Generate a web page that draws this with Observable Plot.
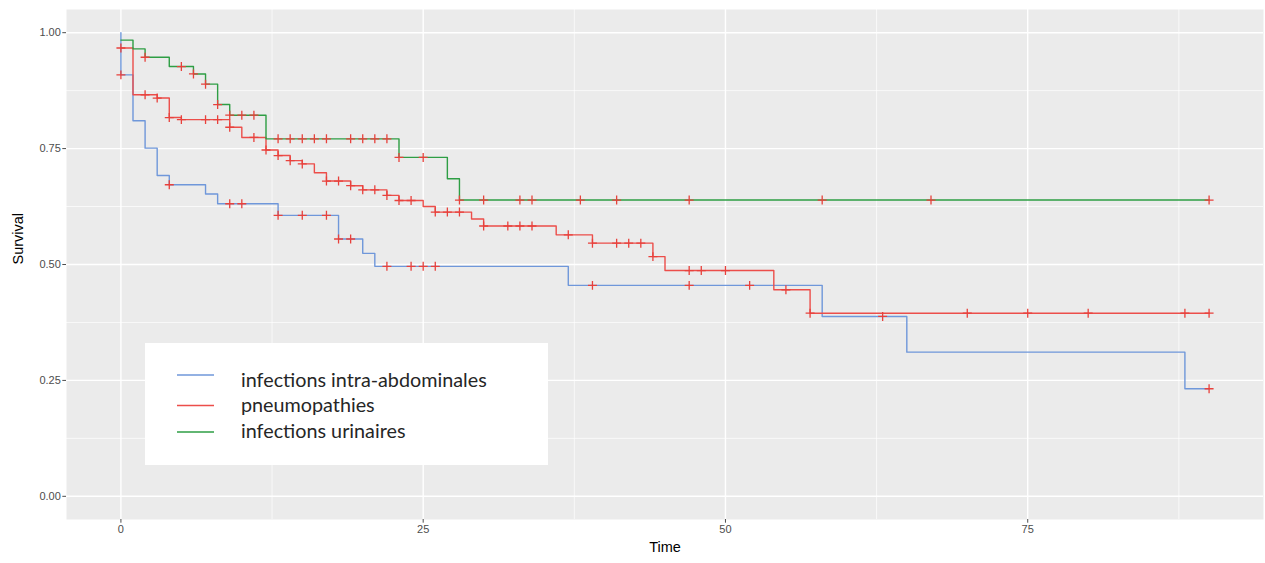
<!DOCTYPE html>
<html><head><meta charset="utf-8">
<script src="https://cdn.jsdelivr.net/npm/d3@7"></script>
<script src="https://cdn.jsdelivr.net/npm/@observablehq/plot@0.6"></script>
<style>
body{margin:0;background:#fff;}
#wrap{position:relative;width:1265px;height:563px;}
</style></head><body><div id="wrap"></div>
<script>
// ---- data ----
const seriesNames = ["infections intra-abdominales", "pneumopathies", "infections urinaires"];
const seriesColors = ["#6F97DA", "#EC4E4A", "#2E9E44"];
const censorColor = "#E8413C";

const xTicks = [0, 25, 50, 75];
const xMinor = [12.5, 37.5, 62.5, 87.5];
const yTicks = [0, 0.25, 0.5, 0.75, 1];
const yMinor = [0.125, 0.375, 0.625, 0.875];

const blueTimes  = [0, 0, 1, 2, 3, 4, 7, 8, 13, 18, 20, 21, 37, 58, 65, 88, 90];
const blueSurv   = [1, 0.909, 0.810, 0.751, 0.692, 0.672, 0.652, 0.631, 0.606, 0.555, 0.524, 0.496, 0.455, 0.388, 0.311, 0.232, 0.232];
const blueCensor = [0, 4, 9, 10, 13, 15, 17, 18, 19, 22, 24, 25, 26, 39, 47, 52, 63, 90];

const redTimes  = [0, 1, 3, 4, 5, 9, 10, 12, 13, 14, 15, 16, 17, 19, 20, 22, 23, 25, 26, 29, 30, 36, 39, 44, 45, 54, 57, 90];
const redSurv   = [0.967, 0.866, 0.859, 0.817, 0.8125, 0.796, 0.774, 0.747, 0.735, 0.724, 0.717, 0.698, 0.680, 0.670, 0.661, 0.649, 0.638, 0.625, 0.613, 0.598, 0.583, 0.564, 0.546, 0.517, 0.487, 0.4455, 0.395, 0.395];
const redCensor = [0, 2, 3, 4, 5, 7, 8, 9, 11, 12, 13, 14, 15, 17, 18, 19, 20, 21, 22, 23, 24, 26, 27, 28, 30, 32, 33, 34, 37, 39, 41, 42, 43, 44, 47, 48, 50, 55, 57, 70, 75, 80, 88, 90];

const greenTimes  = [0, 1, 2, 4, 6, 7, 8, 9, 12, 23, 27, 28, 90];
const greenSurv   = [0.984, 0.965, 0.947, 0.927, 0.911, 0.889, 0.845, 0.822, 0.771, 0.731, 0.685, 0.639, 0.639];
const greenCensor = [2, 5, 6, 7, 8, 9, 10, 11, 13, 14, 15, 16, 17, 19, 20, 21, 22, 23, 25, 28, 30, 33, 34, 38, 41, 47, 58, 67, 90];

// ---- build tables ----
const seriesDefs = [
  {name: seriesNames[0], times: blueTimes, surv: blueSurv, censor: blueCensor},
  {name: seriesNames[1], times: redTimes, surv: redSurv, censor: redCensor},
  {name: seriesNames[2], times: greenTimes, surv: greenSurv, censor: greenCensor}
];
function survAt(def, t) {
  let v = def.surv[0];
  def.times.forEach((ti, i) => { if (ti <= t) v = def.surv[i]; });
  return v;
}
const stepData = seriesDefs.flatMap(d => d.times.map((t, i) => ({series: d.name, time: t, surv: d.surv[i]})));
const censorData = seriesDefs.flatMap(d => d.censor.map(t => ({series: d.name, time: t, surv: survAt(d, t)})));

const chart = Plot.plot({
  width: 1265, height: 563,
  marginLeft: 66, marginRight: 2, marginTop: 9, marginBottom: 44,
  style: {fontFamily: "'Liberation Sans', Arial, sans-serif", background: "#fff"},
  x: {domain: [-4.5, 94.5]},
  y: {domain: [-0.05, 1.05]},
  color: {domain: seriesNames, range: seriesColors},
  marks: [
    Plot.frame({fill: "#EBEBEB", stroke: null}),
    Plot.gridX(xMinor, {stroke: "#fff", strokeOpacity: 1, strokeWidth: 0.7}),
    Plot.gridY(yMinor, {stroke: "#fff", strokeOpacity: 1, strokeWidth: 0.7}),
    Plot.gridX(xTicks, {stroke: "#fff", strokeOpacity: 1, strokeWidth: 1.4}),
    Plot.gridY(yTicks, {stroke: "#fff", strokeOpacity: 1, strokeWidth: 1.4}),
    Plot.axisX(xTicks, {tickSize: 3.7, tickPadding: 2, fontSize: 11, color: "#4D4D4D", label: null}),
    Plot.axisY(yTicks, {tickSize: 3.7, tickPadding: 2, fontSize: 11, color: "#4D4D4D", label: null, tickFormat: d3.format(".2f")}),
    Plot.line(stepData, {x: "time", y: "surv", z: "series", stroke: "series", curve: "step-after", strokeWidth: 1.4}),
    Plot.dot(censorData, {x: "time", y: "surv", symbol: "plus", r: 3, stroke: censorColor, strokeWidth: 1.3}),
    Plot.text(["Time"], {frameAnchor: "bottom", dy: 32, fontSize: 14.5, fill: "#000"}),
    Plot.text(["Survival"], {frameAnchor: "left", dx: -48, rotate: -90, fontSize: 14.5, fill: "#000"})
  ]
});
document.getElementById("wrap").appendChild(chart);

// ---- legend (inside the panel) ----
const legW = 403, legH = 122;
const leg = d3.select("#wrap").append("svg")
  .attr("width", legW).attr("height", legH)
  .style("position", "absolute").style("left", "145px").style("top", "343px");
leg.append("rect").attr("width", legW).attr("height", legH).attr("fill", "#fff");
const legFont = "Lato, 'Open Sans', sans-serif";
const ctx = document.createElement("canvas").getContext("2d");
ctx.font = "19px " + legFont;
const w0 = ctx.measureText(seriesNames[0]).width;
const legSize = 19 * 246 / w0;
const lineYs = [32, 62.5, 89];
const baseYs = [43.5, 68.5, 94.5];
seriesNames.forEach((name, i) => {
  leg.append("line").attr("x1", 32).attr("x2", 69).attr("y1", lineYs[i]).attr("y2", lineYs[i])
    .attr("stroke", seriesColors[i]).attr("stroke-width", 1.6);
  leg.append("text").attr("x", 96).attr("y", baseYs[i]).text(name)
    .attr("font-family", legFont).attr("font-size", legSize).attr("fill", "#262626");
});
</script>
</body></html>
